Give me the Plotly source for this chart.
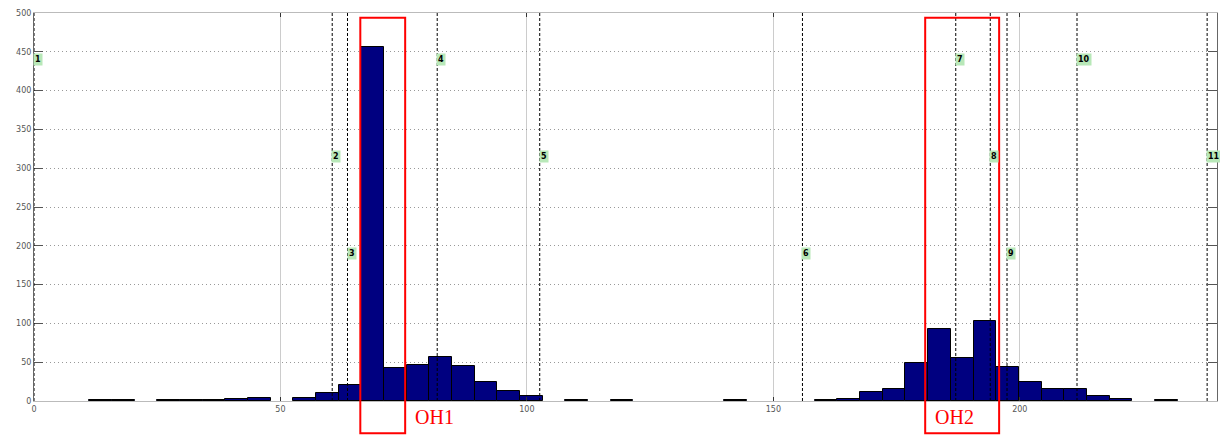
import plotly.graph_objects as go

# ---- data ----
bin_centers = [13.5, 18.1, 27.3, 31.9, 36.5, 41.1, 45.7, 54.9, 59.5, 64.1, 68.7, 73.3,
               77.9, 82.5, 87.1, 91.7, 96.3, 100.9, 110.1, 119.3, 142.3,
               160.7, 165.3, 169.9, 174.5, 179.1, 183.7, 188.3, 192.9, 197.5,
               202.1, 206.7, 211.3, 215.9, 220.5, 229.7]
counts = [1, 1, 1, 1, 1, 2, 4, 4, 10, 21, 456, 42,
          47, 57, 45, 25, 13, 6, 1, 1, 1,
          1, 3, 11, 16, 49, 93, 56, 103, 44,
          25, 16, 16, 6, 3, 1]
bin_width = 4.6

marker_names = ["1", "2", "3", "4", "5", "6", "7", "8", "9", "10", "11"]
marker_x = [0, 60.5, 63.6, 81.8, 102.6, 155.9, 187.0, 194.0, 197.4, 211.6, 238.0]
marker_label_y = [440, 315, 190, 440, 315, 190, 440, 315, 190, 440, 315]

region_names = ["OH1", "OH2"]
region_x0 = [66.2, 180.8]
region_x1 = [75.3, 195.8]
region_text_x = [76.9, 182.4]

x_ticks = [0, 50, 100, 150, 200]
y_ticks = [0, 50, 100, 150, 200, 250, 300, 350, 400, 450, 500]

fig = go.Figure()
fig.add_trace(go.Bar(
    x=bin_centers, y=counts, width=bin_width,
    marker=dict(color="#000080", line=dict(color="#000000", width=1)),
    showlegend=False, hoverinfo="skip",
))

shapes = []
annotations = []
for name, xv, yv in zip(marker_names, marker_x, marker_label_y):
    shapes.append(dict(type="line", xref="x", yref="paper", x0=xv, x1=xv, y0=0, y1=1,
                       line=dict(color="#000000", width=1, dash="3px,2px"), layer="above"))
    annotations.append(dict(x=xv, y=yv, xref="x", yref="y", text="<b>%s</b>" % name,
                            showarrow=False, xanchor="left", yanchor="middle", xshift=-1,
                            font=dict(family="DejaVu Sans", size=8, color="#000000"),
                            bgcolor="#b8e8b8", borderpad=1))

for name, x0, x1, tx in zip(region_names, region_x0, region_x1, region_text_x):
    shapes.append(dict(type="rect", xref="x", yref="paper", x0=x0, x1=x1, y0=-0.083, y1=0.988,
                       line=dict(color="#ff0000", width=2), fillcolor="rgba(0,0,0,0)", layer="above"))
    annotations.append(dict(x=tx, y=-0.042, xref="x", yref="paper", text=name, showarrow=False,
                            xanchor="left", yanchor="middle",
                            font=dict(family="Liberation Serif", size=20, color="#ff0000")))

fig.update_layout(
    width=1220, height=436,
    margin=dict(l=34, r=3, t=13, b=35, autoexpand=False),
    paper_bgcolor="white", plot_bgcolor="white",
    bargap=0,
    shapes=shapes, annotations=annotations,
    font=dict(family="DejaVu Sans", size=8, color="#555555"),
)
fig.update_xaxes(
    range=[0, 240], tickvals=x_ticks, ticktext=[str(v) for v in x_ticks],
    showgrid=True, gridcolor="#cccccc", gridwidth=1,
    showline=True, linecolor="#bbbbbb", linewidth=1, mirror="allticks",
    ticks="inside", ticklen=4, tickcolor="#333333", zeroline=False, automargin=False,
    tickfont=dict(family="DejaVu Sans", size=8, color="#555555"),
)
fig.update_yaxes(
    range=[0, 500], tickvals=y_ticks, ticktext=[str(v) for v in y_ticks],
    showgrid=True, gridcolor="#999999", gridwidth=1, griddash="1px,3px",
    showline=True, linecolor="#666666", linewidth=1, mirror="allticks",
    ticks="inside", ticklen=9, tickcolor="#555555", zeroline=False, automargin=False,
    tickfont=dict(family="DejaVu Sans", size=8, color="#555555"),
)

fig.write_html("out.html", config={"displayModeBar": False},
               post_script="document.body.style.margin='0';")
